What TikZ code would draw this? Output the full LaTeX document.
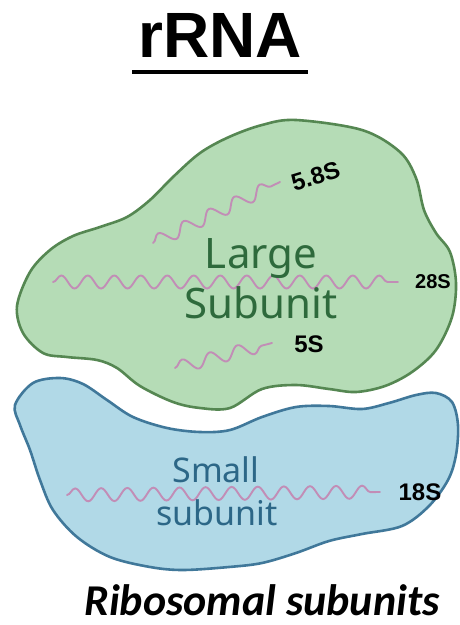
\documentclass[tikz,border=0pt]{standalone}
\usepackage{fontspec}
\setmainfont{Liberation Sans}
\newfontfamily\notofont{Noto Sans}
\newfontfamily\carlitofont{Carlito}
\usetikzlibrary{decorations.pathmorphing}

\definecolor{largefill}{HTML}{B5DCB6}
\definecolor{largeline}{HTML}{558752}
\definecolor{largetext}{HTML}{2E6A3C}
\definecolor{smallfill}{HTML}{B1D9E7}
\definecolor{smallline}{HTML}{40789A}
\definecolor{smalltext}{HTML}{2C6787}
\definecolor{rnacol}{HTML}{C28DB6}

\tikzset{
  blob/.style={line width=2.6pt, line join=round},
  rnawave/.style={draw=rnacol, line width=1.9pt, line cap=round,
    decorate, decoration={snake, amplitude=6.5pt}},
  sizelabel/.style={font=\bfseries, text=black, inner sep=0pt, anchor=base},
  subtext/.style={font=\notofont\fontsize{42}{50}\selectfont, inner sep=0pt, anchor=base},
}

\begin{document}
\begin{tikzpicture}[x=1pt, y=-1pt]
  \useasboundingbox[fill=white] (0,0) rectangle (459,625);

  % title
  \node[inner sep=0pt, anchor=base, font=\bfseries\fontsize{64}{70}\selectfont] (title) at (220,57) {rRNA};
  \draw[line width=4pt] (132,72) -- (308,72);

  % large subunit body
  \draw[blob, draw=largeline, fill=largefill]
    plot[smooth cycle, tension=0.55] coordinates {
      (296,120) (362,130) (400,152) (416,178) (424,210) (436,233) (450,252)
      (456,283) (452,317) (436,350) (412,372) (385,386) (356,392) (329,389)
      (296,385) (262,389) (230,408) (200,408) (173,402) (140,386) (117,368)
      (97,360) (67,357) (43,353) (23,333) (17,306) (30,272) (50,250) (73,236)
      (100,227) (127,217) (150,200) (173,177) (200,153) (229,137) (262,125)};

  % small subunit body
  \draw[blob, draw=smallline, fill=smallfill]
    plot[smooth cycle, tension=0.55] coordinates {
      (33,383) (60,378) (83,384) (107,400) (133,417) (167,428) (200,432)
      (230,430) (262,417) (296,407) (329,406) (362,409) (389,403) (416,395)
      (436,393) (452,402) (458,425) (456,455) (448,480) (429,506) (402,526)
      (362,534) (329,541) (296,553) (262,563) (229,567) (183,570) (150,567)
      (110,557) (77,537) (53,510) (40,480) (30,450) (20,425) (15,405)};

  % rRNA strands
  \coordinate (r58a) at (153,243);  \coordinate (r58b) at (280,182);
  \coordinate (r28a) at (53,282);   \coordinate (r28b) at (398,282);
  \coordinate (r5a)  at (175,368);  \coordinate (r5b)  at (272,343);
  \coordinate (r18a) at (67,495);   \coordinate (r18b) at (380,492);

  \draw[rnawave, decoration={segment length=28.2}] (r58a) -- (r58b);
  \draw[rnawave, decoration={segment length=26.5}] (r28a) -- (r28b);
  \draw[rnawave, decoration={segment length=28.6}] (r5a) -- (r5b);
  \draw[rnawave, decoration={segment length=26.1}] (r18a) -- (r18b);

  % subunit names
  \node[subtext, text=largetext] (large1) at (261,268) {Large};
  \node[subtext, text=largetext] (large2) at (261,318) {Subunit};
  \node[subtext, text=smalltext, font=\notofont\fontsize{34}{40}\selectfont] (small1) at (216,482) {Small};
  \node[subtext, text=smalltext, font=\notofont\fontsize{34}{40}\selectfont] (small2) at (217,525) {subunit};

  % sedimentation coefficients
  \node[sizelabel, font=\bfseries\fontsize{24}{28}\selectfont, rotate=17] (l58) at (318,184) {5.8S};
  \node[sizelabel, font=\bfseries\fontsize{20}{24}\selectfont] (l28) at (433,288) {28S};
  \node[sizelabel, font=\bfseries\fontsize{24}{28}\selectfont] (l5) at (309,352) {5S};
  \node[sizelabel, font=\bfseries\fontsize{24}{28}\selectfont] (l18) at (420,500) {18S};

  % caption
  \node[inner sep=0pt, anchor=base, font=\carlitofont\bfseries\itshape\fontsize{44}{50}\selectfont] (caption) at (262,615) {Ribosomal subunits};
\end{tikzpicture}
\end{document}
